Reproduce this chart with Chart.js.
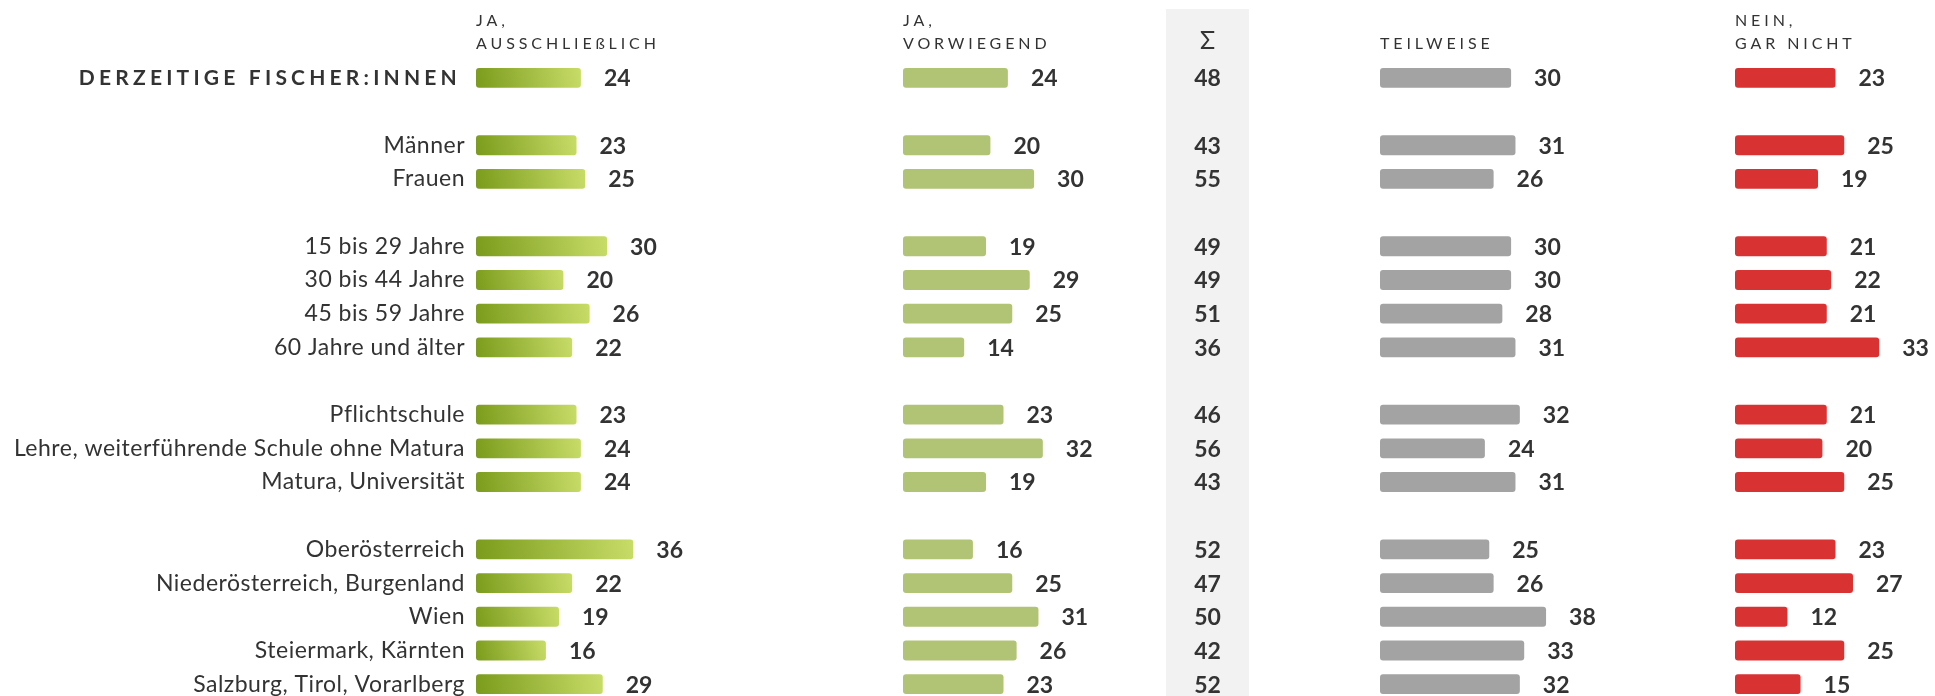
<!DOCTYPE html>
<html>
<head>
<meta charset="utf-8">
<script src="https://cdn.jsdelivr.net/npm/chart.js@4.4.1/dist/chart.umd.min.js"></script>
<style>
  html, body { margin: 0; padding: 0; background: #fff; overflow: hidden; }
  #wrap { position: relative; width: 1935px; height: 740px; }
</style>
</head>
<body>
<div id="wrap"><canvas id="fischerChart" width="1935" height="740"></canvas></div>
<script>
// rows, empty strings are the gaps between groups
var categories = [
  'DERZEITIGE FISCHER:INNEN', '',
  'Männer', 'Frauen', '',
  '15 bis 29 Jahre', '30 bis 44 Jahre', '45 bis 59 Jahre', '60 Jahre und älter', '',
  'Pflichtschule', 'Lehre, weiterführende Schule ohne Matura', 'Matura, Universität', '',
  'Oberösterreich', 'Niederösterreich, Burgenland', 'Wien', 'Steiermark, Kärnten', 'Salzburg, Tirol, Vorarlberg'
];

var jaAusschliesslich = [24, null, 23, 25, null, 30, 20, 26, 22, null, 23, 24, 24, null, 36, 22, 19, 16, 29];
var jaVorwiegend      = [24, null, 20, 30, null, 19, 29, 25, 14, null, 23, 32, 19, null, 16, 25, 31, 26, 23];
var summeJa           = [48, null, 43, 55, null, 49, 49, 51, 36, null, 46, 56, 43, null, 52, 47, 50, 42, 52];
var teilweise         = [30, null, 31, 26, null, 30, 30, 28, 31, null, 32, 24, 31, null, 25, 26, 38, 33, 32];
var neinGarNicht      = [23, null, 25, 19, null, 21, 22, 21, 33, null, 21, 20, 25, null, 23, 27, 12, 25, 15];

var columnHeads = [['JA,', 'AUSSCHLIEßLICH'], ['JA,', 'VORWIEGEND'], ['TEILWEISE'], ['NEIN,', 'GAR NICHT']];
var sumHead = 'Σ';

// layout (pixels)
var LABEL_W = 476;
var COL_W = [427, 477, 355, 200];
var PX_PER_UNIT = 4.37;
var BAND_X = 1166, BAND_W = 83;
var FONT = 'Lato, "Noto Sans", sans-serif';
var TEXT = '#333333';

function greenGradient(context) {
  var chart = context.chart;
  if (!chart.chartArea || context.raw == null) return '#a5c040';
  var xs = chart.scales.x0, ys = chart.scales.y;
  var x0 = xs.getPixelForValue(0);
  var x1 = xs.getPixelForValue(context.raw);
  var yc = ys.getPixelForValue(context.dataIndex);
  var g = chart.ctx.createLinearGradient(x0, yc + 10, x1, yc - 10);
  g.addColorStop(0, '#7a9b1b');
  g.addColorStop(1, '#c8dc68');
  return g;
}

function makeSet(data, axis, color) {
  return {
    data: data,
    xAxisID: axis,
    backgroundColor: color,
    borderRadius: 3,
    borderSkipped: false,
    grouped: false,
    barPercentage: 0.59,
    categoryPercentage: 1
  };
}

var scales = {
  y: {
    type: 'category',
    labels: categories,
    grid: { display: false, drawTicks: false },
    border: { display: false },
    ticks: {
      autoSkip: false,
      padding: 11,
      color: TEXT,
      font: { family: FONT, size: 23 },
      callback: function (v, i) { return i === 0 ? '' : categories[i]; }
    },
    afterFit: function (scale) { scale.width = LABEL_W; }
  }
};
for (var i = 0; i < COL_W.length; i++) {
  scales['x' + i] = {
    type: 'linear',
    position: 'bottom',
    stack: 'cols',
    stackWeight: COL_W[i],
    min: 0,
    max: COL_W[i] / PX_PER_UNIT,
    display: false
  };
}

// grey sum band, headers, value labels
var decorPlugin = {
  id: 'decor',
  beforeDraw: function (chart) {
    chart.ctx.letterSpacing = '0.5px'; // row labels are slightly tracked
  },
  beforeDatasetsDraw: function (chart) {
    var ctx = chart.ctx;
    ctx.save();
    ctx.fillStyle = '#f2f2f2';
    ctx.fillRect(BAND_X, 9, BAND_W, chart.height - 9);
    ctx.restore();
  },
  afterDraw: function (chart) {
    var ctx = chart.ctx;
    var ys = chart.scales.y;
    ctx.save();
    ctx.fillStyle = TEXT;
    ctx.textBaseline = 'middle';

    // column heads
    ctx.font = '16px ' + FONT;
    ctx.letterSpacing = '3.9px';
    ctx.textAlign = 'left';
    columnHeads.forEach(function (lines, c) {
      var x = chart.scales['x' + c].left;
      var y = lines.length === 1 ? 44 : 21;
      lines.forEach(function (t, k) { ctx.fillText(t, x, y + k * 23); });
    });

    // first row label
    ctx.font = 'bold 21px ' + FONT;
    ctx.letterSpacing = '4.2px';
    ctx.textAlign = 'right';
    ctx.fillText(categories[0], 461, ys.getPixelForValue(0));
    ctx.letterSpacing = '0px';

    ctx.textAlign = 'center';
    ctx.font = '25px ' + FONT;
    ctx.fillText(sumHead, BAND_X + BAND_W / 2, 41);

    // values
    ctx.font = 'bold 23px ' + FONT;
    summeJa.forEach(function (v, r) {
      if (v == null) return;
      ctx.fillText(v, BAND_X + BAND_W / 2, ys.getPixelForValue(r) + 1);
    });
    ctx.textAlign = 'left';
    chart.data.datasets.forEach(function (ds, d) {
      chart.getDatasetMeta(d).data.forEach(function (bar, r) {
        if (ds.data[r] == null) return;
        ctx.fillText(ds.data[r], bar.x + 23, bar.y + 1);
      });
    });
    ctx.restore();
  }
};

var ctx = document.getElementById('fischerChart').getContext('2d');
var fischerChart = new Chart(ctx, {
  type: 'bar',
  data: {
    labels: categories,
    datasets: [
      makeSet(jaAusschliesslich, 'x0', greenGradient),
      makeSet(jaVorwiegend, 'x1', '#b1c476'),
      makeSet(teilweise, 'x2', '#a3a3a3'),
      makeSet(neinGarNicht, 'x3', '#d93232')
    ]
  },
  options: {
    indexAxis: 'y',
    responsive: false,
    animation: false,
    layout: { padding: { top: 61, bottom: 39, left: 0, right: 0 } },
    scales: scales,
    plugins: { legend: { display: false }, tooltip: { enabled: false } }
  },
  plugins: [decorPlugin]
});
</script>
</body>
</html>
